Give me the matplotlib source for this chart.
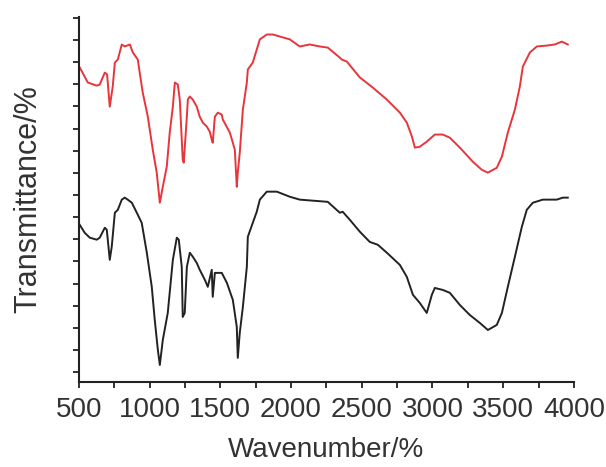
import matplotlib
matplotlib.use("Agg")
import matplotlib.pyplot as plt
import numpy as np

# wavenumber (cm-1) and transmittance (arbitrary offset units)
wn_red = [507, 564, 627, 648, 684, 700, 719, 740, 755, 776, 804, 825, 861, 882, 917,
          952, 988, 1023, 1051, 1073, 1094, 1122, 1143, 1165, 1179, 1200, 1214, 1235,
          1242, 1264, 1271, 1285, 1306, 1334, 1355, 1377, 1405, 1426, 1440, 1447, 1462,
          1483, 1511, 1518, 1568, 1603, 1617, 1624, 1638, 1660, 1688, 1695, 1730, 1780,
          1829, 1872, 1943, 1992, 2062, 2133, 2204, 2260, 2345, 2359, 2395, 2487, 2579,
          2678, 2770, 2819, 2855, 2876, 2911, 2960, 3017, 3073, 3123, 3194, 3286, 3349,
          3392, 3455, 3491, 3533, 3583, 3618, 3639, 3689, 3738, 3809, 3865, 3915, 3957]
t_red = [14.21, 13.53, 13.39, 13.44, 13.98, 13.90, 12.44, 13.35, 14.43, 14.57, 15.25,
         15.16, 15.25, 14.89, 14.57, 13.08, 11.99, 10.50, 9.46, 8.10, 8.82, 9.73, 11.27,
         12.44, 13.53, 13.44, 12.76, 10.05, 9.91, 11.99, 12.76, 12.90, 12.76, 12.44,
         11.99, 11.72, 11.54, 11.31, 10.95, 10.81, 11.99, 12.17, 12.08, 11.86, 11.27,
         10.50, 8.82, 9.46, 10.36, 12.31, 13.53, 14.12, 14.43, 15.48, 15.70, 15.70,
         15.57, 15.48, 15.16, 15.25, 15.16, 15.11, 14.66, 14.57, 14.48, 13.76, 13.30,
         12.76, 12.17, 11.72, 11.09, 10.59, 10.63, 10.86, 11.18, 11.18, 11.04, 10.59,
         9.95, 9.59, 9.46, 9.68, 10.18, 11.27, 12.31, 13.35, 14.25, 14.89, 15.16, 15.20,
         15.25, 15.38, 15.25]

wn_black = [507, 542, 578, 627, 648, 684, 698, 719, 733, 755, 776, 804, 825, 846, 875,
            910, 945, 981, 1016, 1037, 1059, 1073, 1094, 1129, 1165, 1193, 1207, 1228,
            1235, 1249, 1264, 1285, 1306, 1334, 1355, 1391, 1412, 1440, 1447, 1462, 1511,
            1547, 1589, 1617, 1624, 1638, 1660, 1688, 1695, 1730, 1758, 1780, 1829, 1900,
            1992, 2062, 2260, 2345, 2366, 2416, 2487, 2557, 2614, 2678, 2770, 2819, 2862,
            2911, 2960, 2996, 3017, 3073, 3123, 3194, 3264, 3335, 3392, 3455, 3491, 3533,
            3583, 3632, 3667, 3710, 3780, 3879, 3922, 3957]
t_black = [7.10, 6.74, 6.52, 6.43, 6.52, 6.97, 6.88, 5.52, 6.11, 7.65, 7.78, 8.24, 8.33,
           8.24, 8.10, 7.65, 7.19, 5.84, 4.30, 2.81, 1.45, 0.77, 1.90, 3.12, 5.52, 6.52,
           6.43, 5.20, 2.94, 3.12, 5.20, 5.84, 5.66, 5.38, 5.07, 4.62, 4.30, 5.07, 3.85,
           4.93, 4.93, 4.48, 3.71, 2.49, 1.09, 2.22, 3.39, 5.20, 6.56, 7.19, 7.69, 8.24,
           8.60, 8.60, 8.37, 8.24, 8.14, 7.65, 7.69, 7.33, 6.79, 6.33, 6.20, 5.84, 5.29,
           4.75, 3.94, 3.57, 3.12, 3.94, 4.25, 4.16, 4.03, 3.48, 3.03, 2.67, 2.35, 2.58,
           3.12, 4.30, 5.66, 7.01, 7.78, 8.10, 8.24, 8.24, 8.33, 8.33]

xticks = [500, 1000, 1500, 2000, 2500, 3000, 3500, 4000]

plt.rcParams['font.family'] = ['Liberation Sans', 'DejaVu Sans']
txt = '#333333'

fig = plt.figure(figsize=(6.06, 4.67), dpi=100)
ax = fig.add_axes([0.130, 0.182, 0.817, 0.782])

ax.plot(wn_red, t_red, color='#e8353b', lw=1.4)
ax.plot(wn_black, t_black, color='#222222', lw=1.4)

ax.set_xlim(500, 4000)
ax.set_ylim(0, 16.5)
ax.set_xticks(xticks)
ax.set_xticks(np.arange(750, 4000, 500), minor=True)
ax.set_yticks(np.arange(0.45, 16.6, 1.0))
ax.set_yticklabels([])

for s in ['top', 'right']:
    ax.spines[s].set_visible(False)
for s in ['left', 'bottom']:
    ax.spines[s].set_linewidth(1.5)
    ax.spines[s].set_color('#222222')

ax.tick_params(axis='x', which='both', direction='out', length=4, width=1.3,
               colors='#222222', labelcolor=txt, labelsize=20, pad=7)
ax.tick_params(axis='y', direction='out', length=4, width=1.3, colors='#222222')

ax.set_xlabel('Wavenumber/%', fontsize=20, color=txt, labelpad=10)
ax.set_ylabel('Transmittance/%', fontsize=22, color=txt, labelpad=18)

fig.savefig('out.png', dpi=100)
